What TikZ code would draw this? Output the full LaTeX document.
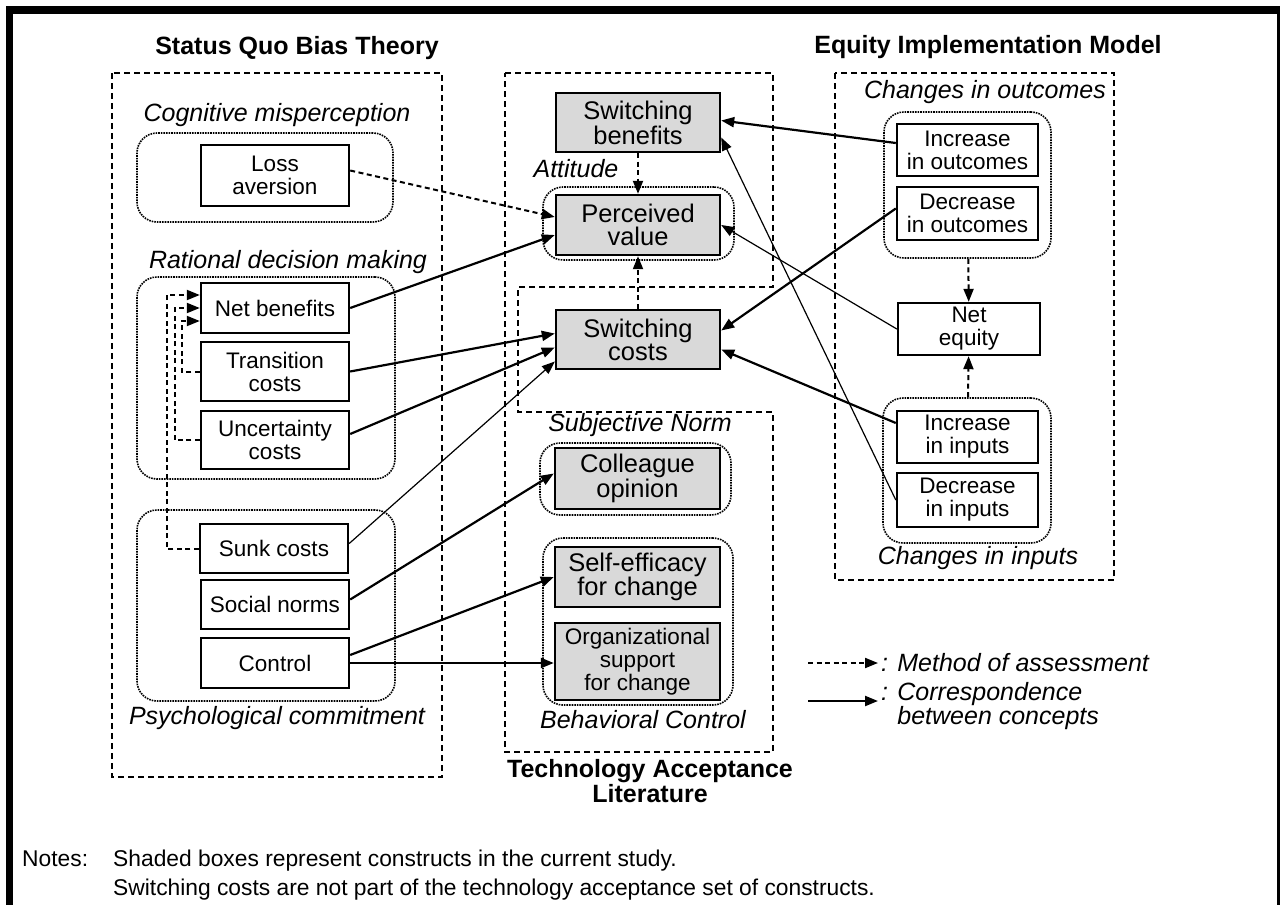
\documentclass[tikz,border=0pt]{standalone}
\usepackage{fontspec}
\setmainfont{Liberation Sans}
\usetikzlibrary{arrows.meta,positioning}

\newcommand{\boxtxt}{\fontsize{22.5}{23}\selectfont}
\newcommand{\shdtxt}{\fontsize{25.5}{23}\selectfont}
\newcommand{\grptxt}{\fontsize{25}{27}\selectfont\itshape}
\newcommand{\ttltxt}{\fontsize{25}{23}\selectfont\bfseries}
\newcommand{\notetxt}{\fontsize{22.8}{29}\selectfont}

\tikzset{
  concept/.style={draw, line width=2.4pt, inner sep=1pt, align=center, font=\boxtxt},
  shaded/.style={concept, fill=black!15, font=\shdtxt},
  group/.style={draw, line width=1.6pt, densely dotted, rounded corners=20pt},
  frame/.style={line width=2pt, dash pattern=on 6pt off 4pt},
  corr/.style={line width=2.2pt, -{Triangle[length=13pt,width=10pt]}},
  corrthin/.style={line width=1.2pt, -{Triangle[length=13pt,width=10pt]}},
  assess/.style={line width=2pt, dash pattern=on 5pt off 3.5pt, -{Triangle[length=13pt,width=10pt]}},
  grplabel/.style={font=\grptxt, inner sep=0pt},
  ttl/.style={font=\ttltxt, align=center, inner sep=0pt},
}

\begin{document}
\begin{tikzpicture}[x=1pt,y=-1pt]
\useasboundingbox (0,0) rectangle (1286,905);
\fill (6,6) rectangle (1280,14);
\fill (6,6) rectangle (13,905);
\fill (1277,6) rectangle (1280,905);

% outer frames
\draw[frame] (112,73) rectangle (442,777);
\draw[frame] (505,73) -- (773,73) -- (773,287) -- (518,287) -- (518,412) -- (773,412)
  -- (773,752) -- (505,752) -- cycle;
\draw[frame] (835,73) rectangle (1114,580);

\node[ttl] (sqbt) at (297,48) {Status Quo Bias Theory};
\node[ttl] (eim) at (988,47) {Equity Implementation Model};
\node[ttl] (tal) at (650,781) {Technology Acceptance\\Literature};

% groups
\node[group, minimum width=256pt, minimum height=89pt] (cog) at (265,177.5) {};
\node[group, minimum width=258pt, minimum height=202pt] (rat) at (266,378) {};
\node[group, minimum width=258pt, minimum height=191pt] (psy) at (266,605.5) {};
\node[group, minimum width=191pt, minimum height=73pt] (att) at (638.5,223.5) {};
\node[group, minimum width=191pt, minimum height=72pt] (subj) at (635.5,479) {};
\node[group, minimum width=190pt, minimum height=167pt] (behav) at (638,621.5) {};
\node[group, minimum width=167pt, minimum height=146pt] (outc) at (967.5,185) {};
\node[group, minimum width=168pt, minimum height=145pt] (inp) at (967,470.5) {};

\node[grplabel] at (277,115) {Cognitive misperception};
\node[grplabel] at (288,262) {Rational decision making};
\node[grplabel] at (277,718) {Psychological commitment};
\node[grplabel] at (576,169) {Attitude};
\node[grplabel] at (640,425) {Subjective Norm};
\node[grplabel] at (643,720) {Behavioral Control};
\node[grplabel] at (985,92) {Changes in outcomes};
\node[grplabel] at (978,558) {Changes in inputs};

% concepts
\node[concept, minimum width=148pt, minimum height=61pt] (loss) at (275,175.5) {Loss\\aversion};
\node[concept, minimum width=148pt, minimum height=50pt] (netben) at (275,308) {Net benefits};
\node[concept, minimum width=148pt, minimum height=59pt] (trans) at (275,371.5) {Transition\\costs};
\node[concept, minimum width=148pt, minimum height=58pt] (uncert) at (275,440) {Uncertainty\\costs};
\node[concept, minimum width=148pt, minimum height=49pt] (sunk) at (274,548.5) {Sunk costs};
\node[concept, minimum width=148pt, minimum height=49pt] (social) at (275,604.5) {Social norms};
\node[concept, minimum width=148pt, minimum height=50pt] (control) at (275,663) {Control};

\node[shaded, minimum width=164pt, minimum height=59pt] (swben) at (638,122.5) {Switching\\benefits};
\node[shaded, minimum width=164pt, minimum height=60pt] (pval) at (638,225) {Perceived\\value};
\node[shaded, minimum width=164pt, minimum height=59pt] (swcost) at (638,339.5) {Switching\\costs};
\node[shaded, minimum width=165pt, minimum height=61pt] (colleague) at (637.5,478.5) {Colleague\\opinion};
\node[shaded, minimum width=165pt, minimum height=60pt] (selfeff) at (637.5,577) {Self-efficacy\\for change};
\node[shaded, font=\boxtxt, minimum width=165pt, minimum height=77pt] (orgsup) at (637.5,661.5) {Organizational\\support\\for change};

\node[concept, minimum width=141pt, minimum height=52pt] (incout) at (967.5,150) {Increase\\in outcomes};
\node[concept, minimum width=141pt, minimum height=53pt] (decout) at (967.5,213.5) {Decrease\\in outcomes};
\node[concept, minimum width=142pt, minimum height=52pt] (netequity) at (969,329) {Net\\equity};
\node[concept, minimum width=141pt, minimum height=52pt] (incin) at (967.5,437) {Increase\\in inputs};
\node[concept, minimum width=141pt, minimum height=54pt] (decin) at (967.5,500) {Decrease\\in inputs};

% method of assessment
\draw[assess] (sunk.west) -- ++(-32,0) |- ([yshift=13pt]netben.west);
\draw[assess] (uncert.west) -- ++(-25,0) |- (netben.west);
\draw[assess] (trans.west) -- ++(-18,0) |- ([yshift=-13pt]netben.west);
\draw[assess] (swben) -- (pval);
\draw[assess] (swcost) -- (pval);
\draw[assess] (outc) -- (netequity);
\draw[assess] (inp) -- (netequity);
\draw[assess] ([yshift=5pt]loss.east) -- ([yshift=8pt]pval.west);

% correspondence
\draw[corr] ([yshift=7pt]incout.west) -- ([yshift=2pt]swben.east);
\draw[corr] ([yshift=5pt]decout.west) -- ([yshift=9pt]swcost.east);
\draw[corrthin] (netequity.west) -- (pval.east);
\draw[corr] ([yshift=14pt]incin.west) -- ([yshift=-10pt]swcost.east);
\draw[corrthin] (decin.west) -- ([yshift=-15pt]swben.east);
\draw[corr] (netben.east) -- ([yshift=-10pt]pval.west);
\draw[corr] (trans.east) -- ([yshift=6pt]swcost.west);
\draw[corr] ([yshift=6pt]uncert.east) -- ([yshift=-8pt]swcost.west);
\draw[corrthin] ([yshift=5pt]sunk.east) -- ([yshift=-22pt]swcost.west);
\draw[corr] ([yshift=5pt]social.east) -- ([yshift=5pt]colleague.west);
\draw[corr] ([yshift=8pt]control.east) -- (selfeff.west);
\draw[corr] (control.east) -- (control.east -| orgsup.west);

% legend
\coordinate (lgA) at (808,663);
\coordinate (lgAend) at (878,663);
\coordinate (lgB) at (808,701);
\coordinate (lgBend) at (878,701);
\draw[assess] (lgA) -- (lgAend);
\draw[corr] (lgB) -- (lgBend);
\node[grplabel, anchor=west] (lgAtxt) at (881,663) {: Method of assessment};
\node[grplabel, anchor=west, align=left, font=\fontsize{25}{23}\selectfont\itshape] (lgBtxt) at (881,706)
  {: Correspondence\\\hphantom{: }between concepts};

\node[anchor=base west, font=\notetxt, inner sep=0pt] (notes) at (22,866) {Notes:};
\node[anchor=base west, align=left, font=\notetxt, inner sep=0pt] (notetext) at (113,895)
  {Shaded boxes represent constructs in the current study.\\
   Switching costs are not part of the technology acceptance set of constructs.};
\end{tikzpicture}
\end{document}
